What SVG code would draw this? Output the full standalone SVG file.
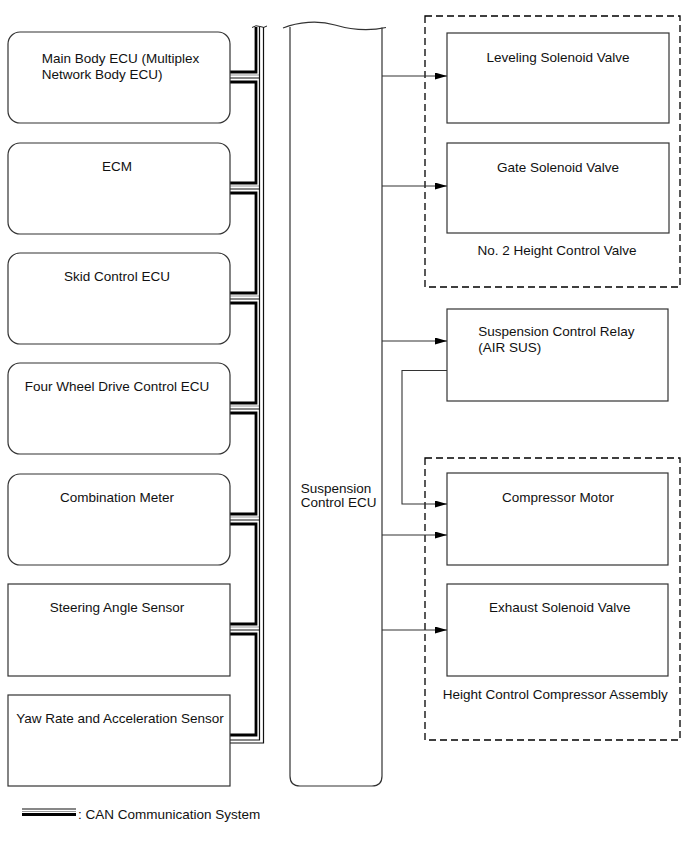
<svg xmlns="http://www.w3.org/2000/svg" width="691" height="855" viewBox="0 0 691 855">
<style>
  text { font-family: "Liberation Sans", Arial, sans-serif; font-size: 13.5px; fill: #111; }
  .box { fill: #fff; stroke: #333; stroke-width: 1.2; }
  .dash { fill: none; stroke: #000; stroke-width: 1.3; stroke-dasharray: 7 4; }
  .thick { fill: none; stroke: #000; stroke-width: 2.8; }
  .thin { fill: none; stroke: #111; stroke-width: 1.2; }
  .gray { fill: none; stroke: #999; stroke-width: 1.1; }
  .arr { fill: none; stroke: #333; stroke-width: 1.1; marker-end: url(#ah); }
  .mid { text-anchor: middle; }
</style>
<defs>
  <marker id="ah" markerUnits="userSpaceOnUse" markerWidth="12" markerHeight="8" refX="12" refY="3.5" orient="auto">
    <path d="M0,0 L12,3.5 L0,7 z" fill="#000"/>
  </marker>
</defs>
<rect width="691" height="855" fill="#fff"/>

<g id="can-bus">
  <path class="thick" d="M256,27 V72 H230 M230,82 H256 V183 H230 M230,193 H256 V293 H230 M230,303 H256 V403 H230 M230,413 H256 V514 H230 M230,524 H256 V624 H230 M230,634 H256 V735 H230"/>
  <path class="gray" d="M230,75 H259.5 M230,186 H259.5 M230,296 H259.5 M230,406 H259.5 M230,517 H259.5 M230,627 H259.5"/>
  <path class="thin" d="M230,78 H259.5 M230,189 H259.5 M230,299 H259.5 M230,409 H259.5 M230,520 H259.5 M230,630 H259.5"/>
  <path class="thin" d="M259.5,27 V740 H230 M263.5,27 V743 H230"/>
  <path fill="none" stroke="#222" stroke-width="1" d="M252,27.5 Q256,24.5 260,26.5 T267,26"/>
</g>

<g id="main-body-ecu">
  <rect class="box" x="8" y="32" width="222" height="91" rx="12"/>
  <text x="41.7" y="62.7">Main Body ECU (Multiplex</text>
  <text x="41.7" y="79">Network Body ECU)</text>
</g>
<g id="ecm">
  <rect class="box" x="8" y="143" width="222" height="91" rx="12"/>
  <text class="mid" x="117" y="171">ECM</text>
</g>
<g id="skid-control-ecu">
  <rect class="box" x="8" y="253" width="222" height="91" rx="12"/>
  <text class="mid" x="117" y="281">Skid Control ECU</text>
</g>
<g id="four-wheel-drive-control-ecu">
  <rect class="box" x="8" y="363" width="222" height="91" rx="12"/>
  <text class="mid" x="117" y="391">Four Wheel Drive Control ECU</text>
</g>
<g id="combination-meter">
  <rect class="box" x="8" y="474" width="222" height="91" rx="12"/>
  <text class="mid" x="117" y="502">Combination Meter</text>
</g>
<g id="steering-angle-sensor">
  <rect class="box" x="8" y="584" width="222" height="92"/>
  <text class="mid" x="117" y="612">Steering Angle Sensor</text>
</g>
<g id="yaw-rate-sensor">
  <rect class="box" x="8" y="695" width="222" height="91"/>
  <text class="mid" x="120" y="723">Yaw Rate and Acceleration Sensor</text>
</g>

<g id="suspension-control-ecu">
  <path class="box" d="M290,27 V776 Q290,786 300,786 H372 Q382,786 382,776 V27.5"/>
  <path fill="none" stroke="#333" stroke-width="1.1" d="M283,28 C298,22 318,20 335,25 C352,30 370,31 386,27.5"/>
  <text x="300.7" y="492.7">Suspension</text>
  <text x="300.7" y="507">Control ECU</text>
</g>

<g id="no2-height-control-valve">
  <rect class="dash" x="425" y="16" width="255" height="271"/>
  <text class="mid" x="557" y="255">No. 2 Height Control Valve</text>
</g>
<g id="leveling-solenoid-valve">
  <rect class="box" x="447" y="33" width="222" height="90"/>
  <text class="mid" x="558" y="61.5">Leveling Solenoid Valve</text>
</g>
<g id="gate-solenoid-valve">
  <rect class="box" x="447" y="143" width="222" height="90"/>
  <text class="mid" x="558" y="171.5">Gate Solenoid Valve</text>
</g>
<g id="suspension-control-relay">
  <rect class="box" x="447" y="309" width="221" height="92"/>
  <text x="478.3" y="336">Suspension Control Relay</text>
  <text x="478.3" y="352">(AIR SUS)</text>
</g>
<g id="height-control-compressor-assembly">
  <rect class="dash" x="425" y="458" width="255" height="282"/>
  <text x="442.7" y="699">Height Control Compressor Assembly</text>
</g>
<g id="compressor-motor">
  <rect class="box" x="447" y="473" width="221" height="92"/>
  <text class="mid" x="558" y="502">Compressor Motor</text>
</g>
<g id="exhaust-solenoid-valve">
  <rect class="box" x="447" y="584" width="221" height="92"/>
  <text x="489" y="611.7">Exhaust Solenoid Valve</text>
</g>

<g id="connectors">
  <path class="arr" d="M382,76 H447"/>
  <path class="arr" d="M382,186 H447"/>
  <path class="arr" d="M382,341 H447"/>
  <path class="arr" d="M447,370.5 H402 V504 H447"/>
  <path class="arr" d="M382,535 H447"/>
  <path class="arr" d="M382,630 H447"/>
</g>

<g id="legend">
  <path class="thin" d="M22,809 H76"/>
  <path class="gray" d="M22,811.5 H76"/>
  <path class="thick" d="M22,814.5 H76"/>
  <text x="78" y="819">: CAN Communication System</text>
</g>
</svg>
